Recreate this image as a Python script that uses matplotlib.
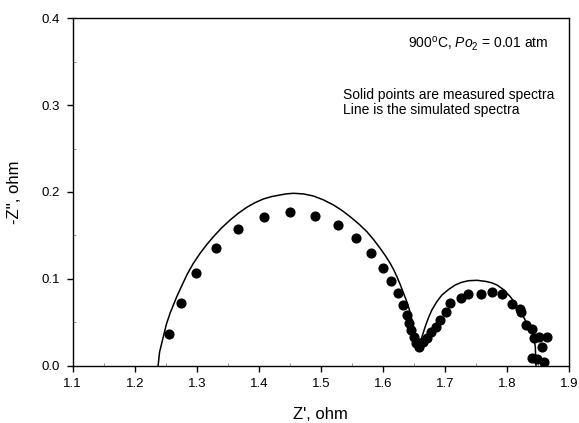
import numpy as np
import matplotlib
matplotlib.use("Agg")
from matplotlib import pyplot as plt
from matplotlib.ticker import MultipleLocator

plt.rcParams['font.family'] = ['Liberation Sans', 'DejaVu Sans']
plt.rcParams['mathtext.fontset'] = 'custom'
plt.rcParams['mathtext.rm'] = 'Liberation Sans'
plt.rcParams['mathtext.it'] = 'Liberation Sans:italic'

# measured spectra (solid points)
meas_re = [1.2548, 1.2742, 1.2989, 1.3311, 1.3661, 1.408, 1.4505, 1.4913, 1.5274,
           1.5569, 1.5806, 1.600, 1.6134, 1.6242, 1.6332, 1.6387, 1.6413, 1.6456,
           1.6494, 1.6532, 1.6575, 1.6600, 1.6639, 1.671, 1.678, 1.6855, 1.6924,
           1.7016, 1.7086, 1.7258, 1.737, 1.7575, 1.7758, 1.7919, 1.8085, 1.8203,
           1.8225, 1.831, 1.8403, 1.8440, 1.851, 1.8645, 1.8565, 1.8403, 1.848, 1.859]
meas_im = [0.0364, 0.0728, 0.1069, 0.1356, 0.1578, 0.1713, 0.1766, 0.1724, 0.1617,
           0.1471, 0.1303, 0.1123, 0.0973, 0.0835, 0.0697, 0.0586, 0.049, 0.0414,
           0.0337, 0.026, 0.0222, 0.026, 0.028, 0.032, 0.039, 0.0452, 0.0529,
           0.0625, 0.072, 0.0778, 0.0828, 0.0828, 0.0854, 0.0828, 0.0713, 0.065,
           0.0625, 0.047, 0.042, 0.032, 0.033, 0.033, 0.022, 0.0088, 0.0077, 0.005]

# simulated spectra (line)
sim_re = [1.2376, 1.2400, 1.2461, 1.2510, 1.2569, 1.2677, 1.2760, 1.2839, 1.2940,
          1.3053, 1.3160, 1.3268, 1.3400, 1.3537, 1.3670, 1.3806, 1.3940, 1.4074,
          1.4210, 1.4344, 1.4450, 1.4558, 1.4720, 1.488, 1.5040, 1.5203, 1.5340,
          1.5473, 1.5610, 1.5742, 1.5850, 1.5956, 1.6040, 1.6118, 1.6175, 1.6226,
          1.6280, 1.6333, 1.6375, 1.6413, 1.6455, 1.6494, 1.6530, 1.6565, 1.6585,
          1.6630, 1.6682, 1.6735, 1.679, 1.6870, 1.6952, 1.7060, 1.7166, 1.7270,
          1.738, 1.7516, 1.7660, 1.7760, 1.7839, 1.7950, 1.8053, 1.8140, 1.8215,
          1.8285, 1.8349, 1.8395, 1.843, 1.8457, 1.8468]
sim_im = [0.0, 0.0160, 0.0337, 0.0480, 0.0606, 0.0797, 0.0925, 0.1046, 0.1175,
          0.1295, 0.1395, 0.1486, 0.1587, 0.1678, 0.1756, 0.1824, 0.1878, 0.1920,
          0.1948, 0.1966, 0.1979, 0.1985, 0.1978, 0.1954, 0.1910, 0.1851, 0.1788,
          0.1716, 0.1634, 0.1544, 0.1453, 0.1353, 0.1268, 0.118, 0.1105, 0.1026,
          0.0935, 0.0835, 0.0760, 0.0682, 0.0570, 0.0452, 0.0355, 0.026, 0.0203,
          0.0335, 0.0452, 0.0555, 0.0644, 0.0740, 0.0816, 0.0880, 0.0931, 0.0962,
          0.098, 0.0985, 0.0972, 0.0955, 0.0931, 0.0875, 0.0797, 0.0715, 0.0625,
          0.0540, 0.0452, 0.0390, 0.0337, 0.0222, 0.0]

x_ticks = [1.1, 1.2, 1.3, 1.4, 1.5, 1.6, 1.7, 1.8, 1.9]
y_ticks = [0.0, 0.1, 0.2, 0.3, 0.4]

fig = plt.figure(figsize=(5.79, 4.23), dpi=100)
ax = fig.add_axes([0.1256, 0.1348, 0.8571, 0.8226])

ax.plot(sim_re, sim_im, color='black', lw=1.1, solid_joinstyle='round')
ax.plot(meas_re, meas_im, 'o', color='black', ms=6.3, mec='black')

ax.set_xlim(1.1, 1.9)
ax.set_ylim(0.0, 0.4)
ax.set_xticks(x_ticks)
ax.set_yticks(y_ticks)
ax.set_xticklabels(['%.1f' % v for v in x_ticks])
ax.set_yticklabels(['%.1f' % v for v in y_ticks])
ax.xaxis.set_minor_locator(MultipleLocator(0.05))
ax.yaxis.set_minor_locator(MultipleLocator(0.05))
ax.tick_params(which='major', direction='out', length=4, width=1, labelsize=9.5, pad=5)
ax.tick_params(which='minor', direction='in', length=2, width=0.5, color='0.4')
for s in ax.spines.values():
    s.set_linewidth(1.0)

ax.set_xlabel("Z', ohm", fontsize=12, labelpad=12)
ax.set_ylabel("-Z'', ohm", fontsize=12, labelpad=14)

ax.text(1.641, 0.370, r"900$^{\rm o}$C, $\it{Po}_{\rm 2}$ = 0.01 atm", fontsize=10, va='center')
ax.text(1.5354, 0.3116, "Solid points are measured spectra", fontsize=10, va='center')
ax.text(1.5354, 0.2943, "Line is the simulated spectra", fontsize=10, va='center')

fig.savefig("out.png", dpi=100)
